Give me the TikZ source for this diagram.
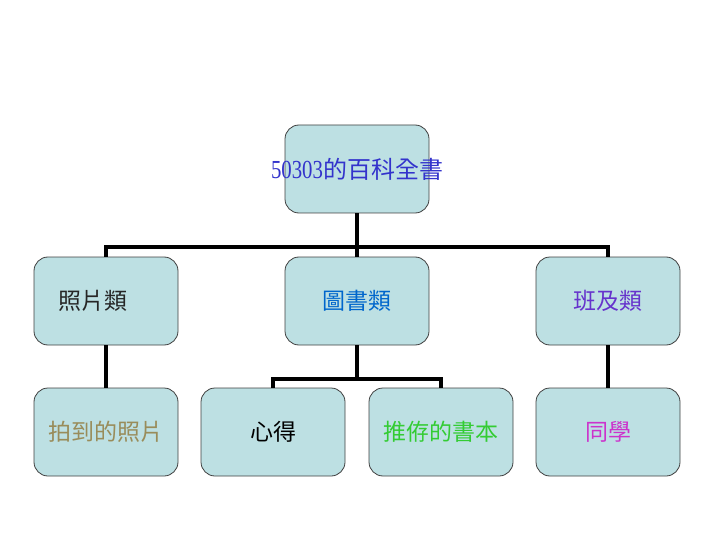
\documentclass[tikz,border=0pt]{standalone}
\usepackage{fontspec}
\usepackage{graphicx}
\setmainfont{Liberation Serif}
\newfontfamily\cjk{Noto Sans CJK TC}
\newfontfamily\digitfont{Liberation Serif}
\begin{document}
\begin{tikzpicture}[x=1pt,y=-1pt,
  box/.style={draw=black!75, line width=0.8pt, fill={rgb,255:red,189;green,224;blue,227},
    rounded corners=14pt, minimum width=144pt, minimum height=88pt, inner sep=0pt,
    font=\cjk\fontsize{23}{26}\selectfont},
  conn/.style={line width=3.5pt, black}]
\useasboundingbox (0,0) rectangle (720,540);
\node[box, text={rgb,255:red,51;green,51;blue,204}] (root) at (357,169) {\makebox[0pt]{\raisebox{-2pt}{\scalebox{0.8}[1]{\digitfont\fontsize{26}{28}\selectfont 50303}{\cjk\fontsize{24}{26}\selectfont 的百科全書}}}};
\node[box, text=black!85] (a) at (106,301) {\hspace*{-26pt}照片類};
\node[box, text={rgb,255:red,0;green,102;blue,204}] (b) at (357,301) {圖書類};
\node[box, text={rgb,255:red,102;green,51;blue,204}] (c) at (608,301) {班及類};
\node[box, text={rgb,255:red,153;green,140;blue,90}] (a1) at (106,432) {拍到的照片};
\node[box, text=black] (b1) at (273,432) {心得};
\node[box, text={rgb,255:red,51;green,204;blue,51}] (b2) at (441,432) {推侟的書本};
\node[box, text={rgb,255:red,204;green,51;blue,204}] (c1) at (608,432) {同學};
\coordinate (h1) at (357,247);
\coordinate (h2) at (357,379);
\draw[conn] (root.south) -- (h1);
\draw[conn] (a.north) |- (h1) -| (c.north);
\draw[conn] (h1) -- (b.north);
\draw[conn] (a.south) -- (a1.north);
\draw[conn] (c.south) -- (c1.north);
\draw[conn] (b.south) -- (h2);
\draw[conn] (b1.north) |- (h2) -| (b2.north);
\end{tikzpicture}
\end{document}
